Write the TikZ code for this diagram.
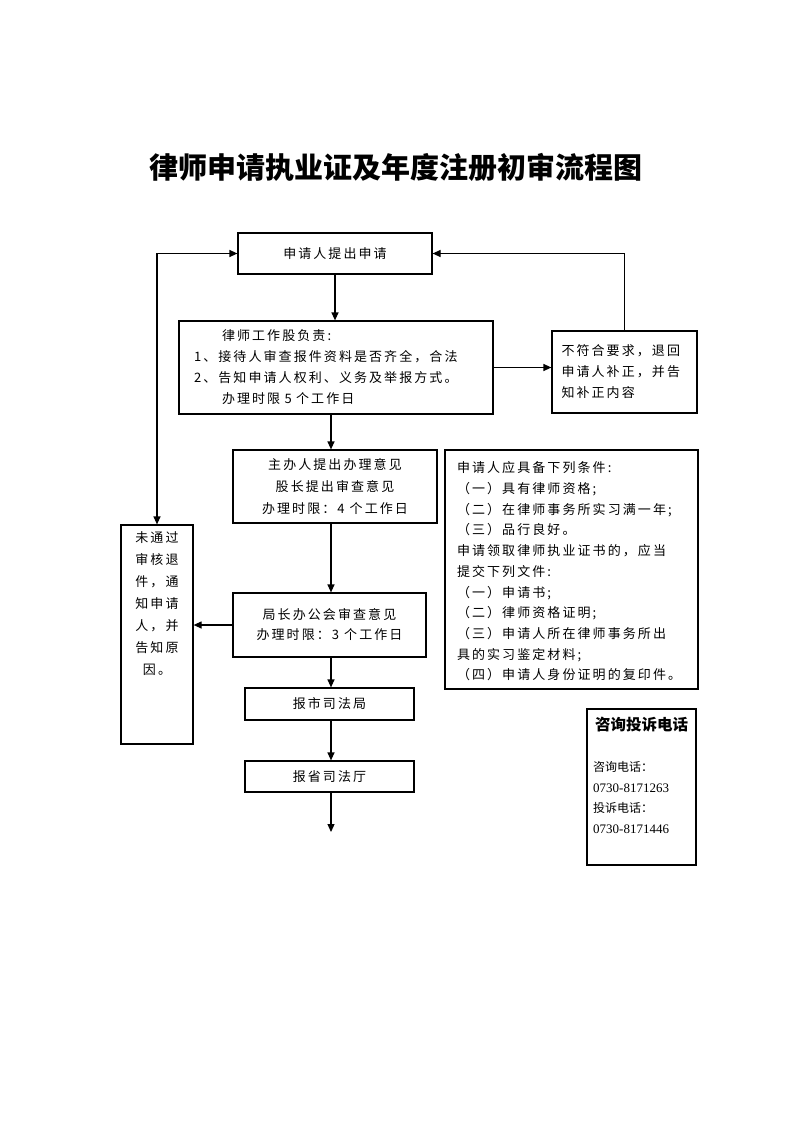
\documentclass[tikz,border=0pt]{standalone}
\usepackage{fontspec}
\setmainfont{Liberation Serif}
\newfontfamily\cjk[LetterSpace=16]{Noto Sans CJK SC}
\newfontfamily\cjkn{Noto Sans CJK SC}
\usetikzlibrary{arrows.meta}
\begin{document}
\begin{tikzpicture}[x=1pt,y=-1pt,
  box/.style={draw, line width=1.2pt, inner sep=0pt},
  thickbox/.style={draw, line width=2.5pt, inner sep=0pt},
  arr/.style={-{Triangle[length=8pt,width=7pt]}, line width=1.2pt},
  darr/.style={{Triangle[length=8pt,width=7pt]}-{Triangle[length=8pt,width=7pt]}, line width=1.2pt},
  txt/.style={font={\fontsize{13}{21}\selectfont\cjk}, inner sep=0pt},
  ctxt/.style={font={\fontsize{13}{20.7}\selectfont\cjk}, inner sep=0pt}]
\useasboundingbox[fill=white] (0,0) rectangle (793,1122);

\node[font={\fontsize{29}{32}\selectfont\cjkn\bfseries}] (title) at (396,167) {律师申请执业证及年度注册初审流程图};

% boxes
\node[box, minimum width=194pt, minimum height=41pt] (apply) at (335,253.5) {};
\node[txt] (applyt) at (apply.center) {申请人提出申请};

\node[box, minimum width=314pt, minimum height=93pt] (lawyer) at (336,367.5) {};
\node[txt, text width=284pt, align=left] (lawyert) at (lawyer.center)
  {\hspace*{28pt}律师工作股负责:\\1、接待人审查报件资料是否齐全，合法\\2、告知申请人权利、义务及举报方式。\\\hspace*{28pt}办理时限\ 5\ 个工作日};

\node[box, minimum width=145pt, minimum height=82pt] (reject) at (624.5,372) {};
\node[txt, text width=126pt, align=left] (rejectt) at (reject.center)
  {不符合要求，退回\\申请人补正，并告\\知补正内容};

\node[box, minimum width=204pt, minimum height=73pt] (zhuban) at (335,486.5) {};
\node[txt, align=center, font={\fontsize{13}{22}\selectfont\cjk}] (zhubant) at (zhuban.center)
  {主办人提出办理意见\\股长提出审查意见\\办理时限：4\ 个工作日};

\node[box, minimum width=193pt, minimum height=64pt] (juzhang) at (329.5,625) {};
\node[txt, align=center, font={\fontsize{13}{20}\selectfont\cjk}] (juzhangt) at (juzhang.center)
  {局长办公会审查意见\\办理时限：3\ 个工作日};

\node[box, minimum width=169pt, minimum height=32pt] (city) at (329.5,704) {};
\node[txt] (cityt) at (city.center) {报市司法局};

\node[box, minimum width=169pt, minimum height=31pt] (prov) at (329.5,776.5) {};
\node[txt] (provt) at (prov.center) {报省司法厅};

\node[box, minimum width=72pt, minimum height=219pt] (fail) at (157,634.5) {};
\node[txt, anchor=north, align=center, font={\fontsize{13}{22}\selectfont\cjk}] (failt) at ([yshift=-7pt]fail.north)
  {未通过\\审核退\\件，通\\知申请\\人，并\\告知原\\因。};

\node[thickbox, minimum width=253pt, minimum height=239pt] (cond) at (571.5,569.5) {};
\node[ctxt, text width=229pt, align=left] (condt) at ([yshift=-2pt]cond.center)
  {申请人应具备下列条件:\\（一）具有律师资格;\\（二）在律师事务所实习满一年;\\（三）品行良好。\\申请领取律师执业证书的，应当\\提交下列文件:\\（一）申请书;\\（二）律师资格证明;\\（三）申请人所在律师事务所出\\具的实习鉴定材料;\\（四）申请人身份证明的复印件。};

\node[box, minimum width=109pt, minimum height=156pt] (phone) at (641.5,787) {};
\node[inner sep=0pt, font={\fontsize{15.5}{18}\selectfont\cjkn\bfseries}] (phonetitle) at (641.5,725) {咨询投诉电话};
\node[inner sep=0pt, anchor=west, align=left, font={\fontsize{13}{20.4}\selectfont}] (phonet) at (593,797.5)
  {{\fontsize{12}{20.4}\selectfont\cjkn 咨询电话：}\\0730-8171263\\{\fontsize{12}{20.4}\selectfont\cjkn 投诉电话：}\\0730-8171446};

% connectors
\coordinate (spine) at (331,0);
\coordinate (endpt) at (331,832);
\draw[arr] (apply.south) -- (apply.south |- lawyer.north);
\draw[arr] (lawyer.east) -- (reject.west |- lawyer.east);
\draw[arr] (reject.north) -- (reject.north |- apply.east) -- (apply.east);
\draw[darr] (fail.north) -- (fail.north |- apply.west) -- (apply.west);
\draw[arr] (spine |- lawyer.south) -- (spine |- zhuban.north);
\draw[arr] (spine |- zhuban.south) -- (spine |- juzhang.north);
\draw[arr] (juzhang.west) -- (fail.east |- juzhang.west);
\draw[arr] (spine |- juzhang.south) -- (spine |- city.north);
\draw[arr] (spine |- city.south) -- (spine |- prov.north);
\draw[arr] (spine |- prov.south) -- (endpt);
\end{tikzpicture}
\end{document}
